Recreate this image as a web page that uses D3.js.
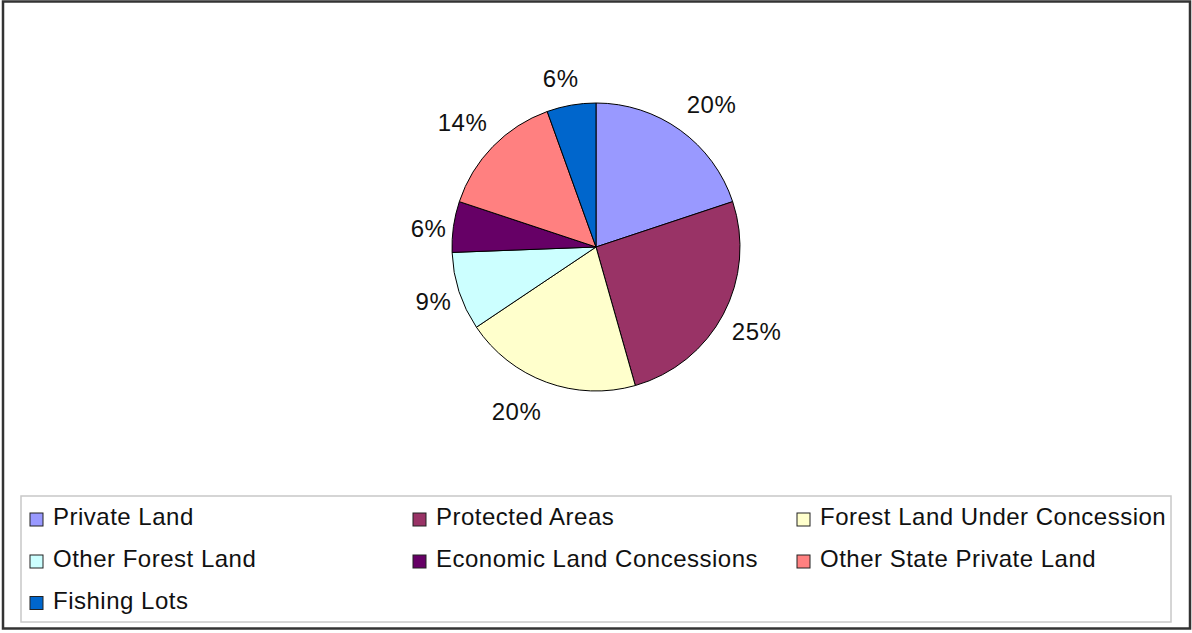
<!DOCTYPE html>
<html lang="en">
<head>
  <meta charset="UTF-8">
  <script src="https://d3js.org/d3.v7.min.js"></script>
  <title>Land use shares</title>
  <style>
    body { margin: 0; background: white; font-family: "Liberation Sans", Arial, sans-serif; }
    text { fill: #111; letter-spacing: 0.5px; }
  </style>
</head>
<body>
<div id="chart"></div>
<script>
  // data (share of area, %)
  var categories = ["Private Land", "Protected Areas", "Forest Land Under Concession",
    "Other Forest Land", "Economic Land Concessions", "Other State Private Land", "Fishing Lots"];
  var shares = [19.9, 25.7, 20.0, 8.8, 5.7, 14.4, 5.5];
  var shareLabels = ["20%", "25%", "20%", "9%", "6%", "14%", "6%"];
  var colors = ["#9999FF", "#993366", "#FFFFCC", "#CCFFFF", "#660066", "#FF8080", "#0066CC"];

  var W = 1192, H = 633;
  var cx = 596, cy = 247, r = 144;

  var svg = d3.select("#chart").append("svg")
    .attr("width", W).attr("height", H);

  // outer frame
  svg.append("rect")
    .attr("x", 3).attr("y", 1.5).attr("width", 1187).attr("height", 627)
    .attr("fill", "white").attr("stroke", "#333").attr("stroke-width", 2.5);

  var data = categories.map((c, i) => ({ name: c, value: shares[i], label: shareLabels[i], color: colors[i] }));

  var pie = d3.pie().sort(null).value(d => d.value);
  var arc = d3.arc().innerRadius(0).outerRadius(r);
  var arcs = pie(data);

  var g = svg.append("g").attr("transform", "translate(" + cx + "," + cy + ")");

  g.selectAll("path")
    .data(arcs)
    .enter()
    .append("path")
    .attr("d", arc)
    .attr("fill", d => d.data.color)
    .attr("stroke", "#000")
    .attr("stroke-width", 1);

  // percentage labels outside the pie (small hand nudges like the original layout)
  var fs = 24;
  var nudge = [[10, 4], [-2, -2], [-19, 0], [6, 0], [7, 6], [-3, 3], [-6, 0]];
  g.selectAll("text.pct")
    .data(arcs)
    .enter()
    .append("text")
    .attr("class", "pct")
    .attr("font-size", fs)
    .attr("text-anchor", "middle")
    .attr("dominant-baseline", "central")
    .text(d => d.data.label)
    .each(function (d, i) {
      var a = (d.startAngle + d.endAngle) / 2;
      var w = this.getComputedTextLength();
      var s = Math.sin(a), c = Math.cos(a);
      var rr = r + 13 + Math.abs(s) * w / 2 + Math.abs(c) * fs * 0.45;
      d3.select(this).attr("x", s * rr + nudge[i][0]).attr("y", -c * rr + nudge[i][1]);
    });

  // legend
  var lg = svg.append("g");
  lg.append("rect")
    .attr("x", 21).attr("y", 496).attr("width", 1150).attr("height", 126)
    .attr("fill", "white").attr("stroke", "#c8c8c8").attr("stroke-width", 1.5);

  var colX = [30, 413, 797];
  var rowY = [525, 567, 608.5];

  var items = lg.selectAll("g.item")
    .data(data)
    .enter()
    .append("g")
    .attr("class", "item")
    .attr("transform", (d, i) => "translate(" + colX[i % 3] + "," + rowY[Math.floor(i / 3)] + ")");

  items.append("rect")
    .attr("x", 0).attr("y", -12).attr("width", 13).attr("height", 13)
    .attr("fill", d => d.color)
    .attr("stroke", "#222").attr("stroke-width", 1);

  items.append("text")
    .attr("x", 23).attr("y", 0)
    .attr("font-size", fs)
    .text(d => d.name);
</script>
</body>
</html>
